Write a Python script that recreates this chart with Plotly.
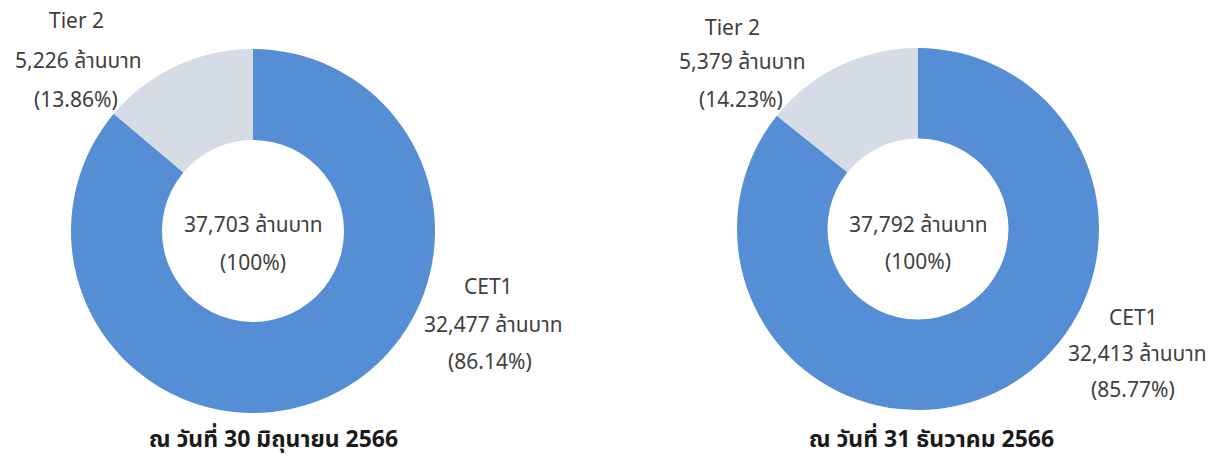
import plotly.graph_objects as go

W, H = 1219, 459

categories = ["CET1", "Tier 2"]
values_jun = [32477, 5226]
values_dec = [32413, 5379]
pct_jun = ["86.14%", "13.86%"]
pct_dec = ["85.77%", "14.23%"]
total_jun = 37703
total_dec = 37792
unit = "ล้านบาท"
titles = ["ณ วันที่ 30 มิถุนายน 2566", "ณ วันที่ 31 ธันวาคม 2566"]

colors = ["#558ED5", "#D6DCE5"]
FONT = "Tahoma, 'Leelawadee UI', 'Noto Sans Thai', 'Noto Sans', sans-serif"
TXT = "#404040"


def px_x(x):
    return x / W


def px_y(y):
    return 1 - y / H


def domain(cx, cy, r):
    return dict(x=[px_x(cx - r), px_x(cx + r)], y=[px_y(cy + r), px_y(cy - r)])


fig = go.Figure()
pies = [
    (values_jun, pct_jun, total_jun, (253, 231, 182)),
    (values_dec, pct_dec, total_dec, (918, 229, 181)),
]
for vals, pcts, tot, (cx, cy, r) in pies:
    fig.add_trace(go.Pie(
        labels=categories, values=vals, hole=0.5, sort=False,
        direction="clockwise", rotation=0, textinfo="none",
        hoverinfo="label+value+percent",
        marker=dict(colors=colors, line=dict(width=0)),
        domain=domain(cx, cy, r), showlegend=False,
    ))

ann = []


def add_lines(lines, positions, size=21, bold=False, color=TXT):
    for t, (x, y) in zip(lines, positions):
        ann.append(dict(
            text=f"<b>{t}</b>" if bold else t,
            x=px_x(x), y=px_y(y), xref="paper", yref="paper",
            xanchor="center", yanchor="middle", showarrow=False,
            font=dict(family=FONT, size=size, color=color),
        ))


def fmt(v):
    return f"{v:,} {unit}"


# left chart
add_lines([categories[1], fmt(values_jun[1]), f"({pct_jun[1]})"],
          [(76, 22), (78, 61), (76, 100)])
add_lines([fmt(total_jun), "(100%)"], [(253, 226), (253, 263)])
add_lines([categories[0], fmt(values_jun[0]), f"({pct_jun[0]})"],
          [(489, 287), (493, 325), (490, 362)])
add_lines([titles[0]], [(273, 440)], size=23, bold=True, color="#1a1a1a")

# right chart
add_lines([categories[1], fmt(values_dec[1]), f"({pct_dec[1]})"],
          [(732, 28), (742, 63), (741, 100)])
add_lines([fmt(total_dec), "(100%)"], [(918, 225), (918, 262)])
add_lines([categories[0], fmt(values_dec[0]), f"({pct_dec[0]})"],
          [(1133, 318), (1137, 354), (1133, 390)])
add_lines([titles[1]], [(931, 440)], size=23, bold=True, color="#1a1a1a")

fig.update_layout(
    width=W, height=H, margin=dict(l=0, r=0, t=0, b=0),
    paper_bgcolor="white", plot_bgcolor="white",
    annotations=ann, showlegend=False,
)
fig.write_html(
    "out.html",
    config={"displayModeBar": False},
    post_script="document.body.style.margin='0';document.body.style.overflow='hidden';",
)
